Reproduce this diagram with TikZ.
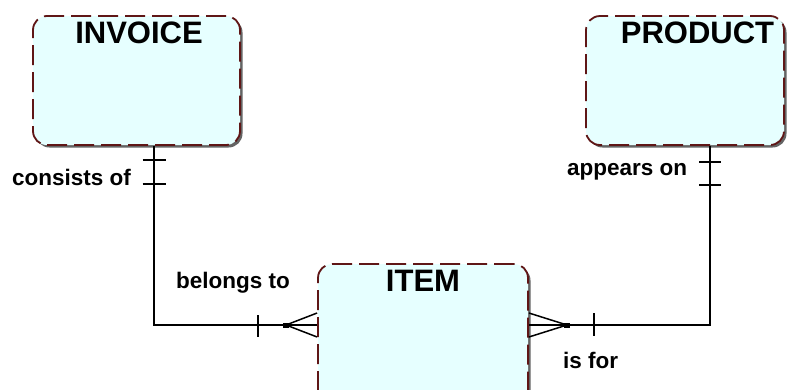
\documentclass[tikz,border=0pt]{standalone}
\usepackage{fontspec}
\setmainfont{Liberation Sans}
\usetikzlibrary{calc,shadows}
\definecolor{boxred}{RGB}{95,22,22}
\definecolor{boxfill}{RGB}{230,255,255}
\definecolor{shadowgray}{RGB}{100,100,100}
\tikzset{
  entity/.style={draw=boxred, line width=1.8pt, dash pattern=on 20pt off 7pt,
    fill=boxfill, rounded corners=14pt, inner sep=0pt,
    drop shadow={shadow xshift=2.5pt, shadow yshift=-2.5pt, fill=shadowgray, opacity=1}},
  title/.style={font=\bfseries\fontsize{31}{31}\selectfont, anchor=base, inner sep=0pt},
  rel/.style={font=\bfseries\fontsize{22.5}{22.5}\selectfont, anchor=base west, inner sep=0pt},
  conn/.style={line width=1.5pt, black},
  dotbox/.style={fill=black, inner sep=0pt, minimum width=6pt, minimum height=5pt},
}
\begin{document}
\begin{tikzpicture}[x=1pt,y=-1pt]
\useasboundingbox (0,0) rectangle (787,389);
\clip (0,0) rectangle (787,389);
% entities
\node[entity, minimum width=207pt, minimum height=129pt] (invoice) at (136.5,80.5) {};
\node[entity, minimum width=198pt, minimum height=129pt] (product) at (685,80.5) {};
\node[entity, minimum width=210pt, minimum height=140pt] (item) at (423,334) {};
\node[title] (tInv) at (139,43) {INVOICE};
\node[title] (tProd) at (697.5,43) {PRODUCT};
\node[title] (tItem) at (423,291) {ITEM};
% left relationship
\coordinate (bendL) at (154,325);
\node[dotbox] (dotL) at (286,325) {};
\draw[conn] (invoice.south -| bendL) -- (bendL) -- (dotL.center);
\draw[conn] (dotL.center) -- (item.west |- dotL);
\draw[conn] (dotL.center) -- ($(item.west |- dotL)+(0,-12)$);
\draw[conn] (dotL.center) -- ($(item.west |- dotL)+(0,12)$);
\draw[conn] ($(invoice.south -| bendL)+(-11.5,14)$) -- ++(23,0);
\draw[conn] ($(invoice.south -| bendL)+(-11.5,38)$) -- ++(23,0);
\draw[conn] ($(bendL)+(104,-10)$) -- ++(0,22);
% right relationship
\coordinate (bendR) at (710,325);
\node[dotbox] (dotR) at (567,325) {};
\draw[conn] (product.south -| bendR) -- (bendR) -- (dotR.center);
\draw[conn] (dotR.center) -- (item.east |- dotR);
\draw[conn] (dotR.center) -- ($(item.east |- dotR)+(0,-12)$);
\draw[conn] (dotR.center) -- ($(item.east |- dotR)+(0,12)$);
\draw[conn] ($(product.south -| bendR)+(-11,16)$) -- ++(22,0);
\draw[conn] ($(product.south -| bendR)+(-11,39)$) -- ++(22,0);
\draw[conn] ($(bendR)+(-116,-12)$) -- ++(0,23);
% labels
\node[rel] (lCons) at (12,185) {consists of};
\node[rel] (lBel) at (176,288) {belongs to};
\node[rel] (lApp) at (567,175) {appears on};
\node[rel] (lFor) at (563,368) {is for};
\end{tikzpicture}
\end{document}
